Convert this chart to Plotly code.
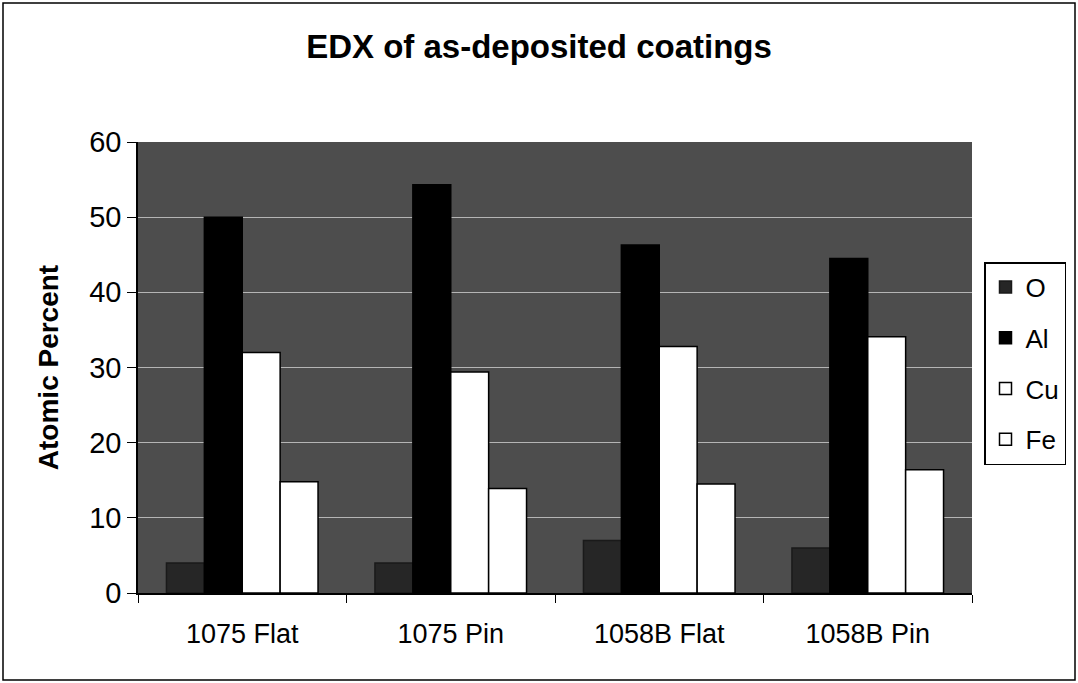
import plotly.graph_objects as go

categories = ["1075 Flat", "1075 Pin", "1058B Flat", "1058B Pin"]
o_vals = [4.0, 4.0, 7.0, 6.0]
al_vals = [50.0, 54.3, 46.3, 44.5]
cu_vals = [32.0, 29.4, 32.8, 34.1]
fe_vals = [14.8, 13.9, 14.5, 16.4]
y_ticks = [0, 10, 20, 30, 40, 50, 60]

FONT = "Arial, Liberation Sans, Helvetica, sans-serif"

fig = go.Figure()
series = [
    ("O", o_vals, "#262626", "#1a1a1a"),
    ("Al", al_vals, "#000000", "#000000"),
    ("Cu", cu_vals, "#ffffff", "#000000"),
    ("Fe", fe_vals, "#ffffff", "#000000"),
]
for name, vals, fill, line in series:
    fig.add_trace(go.Bar(
        x=categories, y=vals, name=name, legendgroup=name,
        marker=dict(color=fill, line=dict(color=line, width=1.5)),
    ))

L, R, T, B = 138, 972, 142, 593
W, H = 1078, 683
pw, ph = R - L, B - T

def px_x(x):
    return (x - L) / pw

def px_y(y):
    return (B - y) / ph

fig.update_layout(
    width=W, height=H,
    margin=dict(l=L, r=W - R, t=T, b=H - B),
    paper_bgcolor="white",
    plot_bgcolor="#4d4d4d",
    barmode="group",
    bargap=0.273,
    bargroupgap=0,
    font=dict(family=FONT, size=26, color="black"),
    title=dict(text="<b>EDX of as-deposited coatings</b>", x=0.5, xanchor="center",
               y=1 - 46 / H, yanchor="middle",
               font=dict(family=FONT, size=33, color="black")),
    xaxis=dict(
        showline=True, linecolor="black", linewidth=1.5,
        ticks="outside", tickson="boundaries", ticklen=8, tickcolor="black",
        tickfont=dict(size=27), showgrid=False, mirror=False,
        ticklabelstandoff=16,
    ),
    yaxis=dict(
        range=[0, 60], tickvals=y_ticks, showline=True, linecolor="black", linewidth=1.5,
        ticks="outside", ticklen=9, tickcolor="black",
        tickfont=dict(size=29),
        showgrid=True, gridcolor="#b5b5b5", gridwidth=1, zeroline=False,
        title=dict(text="<b>Atomic Percent</b>", font=dict(size=28), standoff=22),
    ),
    legend=dict(
        x=px_x(984), y=px_y(262), xanchor="left", yanchor="top",
        bgcolor="white", bordercolor="black", borderwidth=1.5,
        font=dict(size=26), tracegroupgap=14,
        itemwidth=30,
    ),
    shapes=[dict(
        type="rect", xref="paper", yref="paper",
        x0=px_x(3), x1=px_x(1075), y0=px_y(680), y1=px_y(3),
        line=dict(color="black", width=1.5), fillcolor="rgba(0,0,0,0)", layer="below",
    )],
)

fig.write_html("out.html")
